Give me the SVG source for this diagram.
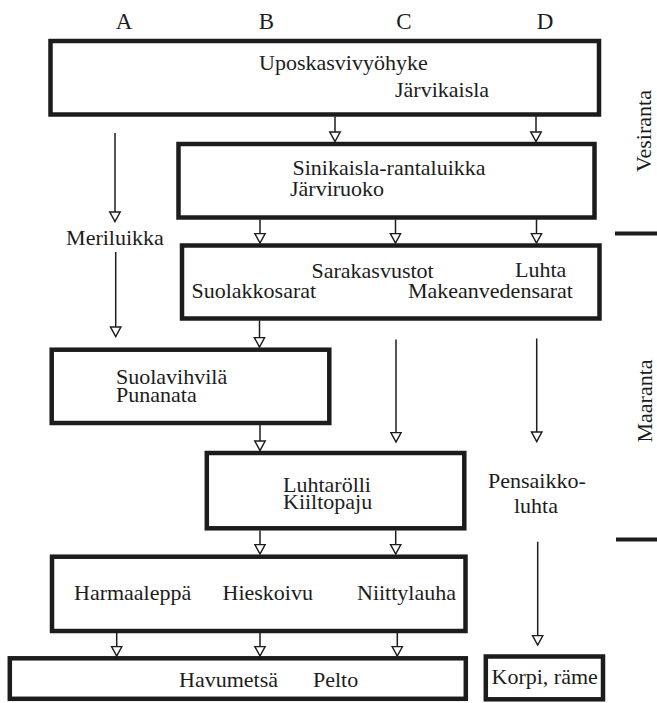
<svg xmlns="http://www.w3.org/2000/svg" width="657" height="703" viewBox="0 0 657 703">
<defs>
<style>
.box{fill:#fff;stroke:#1c1c1c;stroke-width:4.5}
.t{font-family:"Liberation Serif","Times New Roman",serif;font-size:22px;fill:#1c1c1c}
.h{font-family:"Liberation Serif","Times New Roman",serif;font-size:23px;fill:#1c1c1c;text-anchor:middle}
.c line{stroke:#1c1c1c;stroke-width:1.5;marker-end:url(#ah)}
.bar{stroke:#1c1c1c;stroke-width:4}
</style>
<marker id="ah" markerUnits="userSpaceOnUse" viewBox="-1 -7 12 14" refX="9.5" refY="0" markerWidth="12" markerHeight="14" orient="auto">
<path d="M0,-5.2 L9.5,0 L0,5.2 Z" fill="#fff" stroke="#1c1c1c" stroke-width="1.5"/>
</marker>
</defs>
<rect width="657" height="703" fill="#fff"/>

<g id="headers">
<text class="h" x="124" y="29">A</text>
<text class="h" x="266.5" y="29">B</text>
<text class="h" x="404" y="29">C</text>
<text class="h" x="545" y="29">D</text>
</g>

<g id="side">
<line class="bar" x1="615" y1="233.5" x2="657" y2="233.5"/>
<line class="bar" x1="616" y1="539.5" x2="657" y2="539.5"/>
<text class="t" text-anchor="middle" transform="translate(651,131) rotate(-90)">Vesiranta</text>
<text class="t" text-anchor="middle" transform="translate(651.5,401) rotate(-90)">Maaranta</text>
</g>

<g id="n1">
<rect class="box" x="50.5" y="41" width="548.5" height="73.5"/>
<text class="t" x="259" y="70">Uposkasvivyöhyke</text>
<text class="t" x="395" y="96.5">Järvikaisla</text>
</g>
<g id="n2">
<rect class="box" x="178.5" y="144" width="416" height="73.5"/>
<text class="t" x="292.5" y="175">Sinikaisla-rantaluikka</text>
<text class="t" x="290" y="196">Järviruoko</text>
</g>
<g id="n-meriluikka">
<text class="t" text-anchor="middle" x="115" y="245">Meriluikka</text>
</g>
<g id="n3">
<rect class="box" x="182" y="245.5" width="417.5" height="73"/>
<text class="t" x="311.5" y="278">Sarakasvustot</text>
<text class="t" x="515" y="277">Luhta</text>
<text class="t" x="191.5" y="297.5">Suolakkosarat</text>
<text class="t" x="408" y="297.5">Makeanvedensarat</text>
</g>
<g id="n4">
<rect class="box" x="51.7" y="349.7" width="277.6" height="73.3"/>
<text class="t" x="116" y="384">Suolavihvilä</text>
<text class="t" x="116" y="401.5">Punanata</text>
</g>
<g id="n5">
<rect class="box" x="206.8" y="453" width="257.5" height="75.3"/>
<text class="t" x="283" y="491.5">Luhtarölli</text>
<text class="t" x="283" y="509">Kiiltopaju</text>
</g>
<g id="n-pensaikkoluhta">
<text class="t" x="488" y="488">Pensaikko-</text>
<text class="t" x="514" y="513">luhta</text>
</g>
<g id="n6">
<rect class="box" x="52" y="556.7" width="413.5" height="74.3"/>
<text class="t" x="74" y="600">Harmaaleppä</text>
<text class="t" x="222.5" y="600">Hieskoivu</text>
<text class="t" x="357" y="600">Niittylauha</text>
</g>
<g id="n7">
<rect class="box" x="9.8" y="658.3" width="456" height="40.5"/>
<text class="t" x="179" y="686.5">Havumetsä</text>
<text class="t" x="313" y="686.5">Pelto</text>
</g>
<g id="n8">
<rect class="box" x="485.8" y="656.5" width="117.2" height="42.8"/>
<text class="t" x="491.5" y="684">Korpi, räme</text>
</g>

<g id="connectors" class="c">
<line x1="335" y1="116.5" x2="335" y2="141.5"/>
<line x1="536" y1="116.5" x2="536" y2="141.5"/>
<line x1="115" y1="133" x2="115" y2="221.5"/>
<line x1="260" y1="219.5" x2="260" y2="243"/>
<line x1="395.5" y1="219.5" x2="395.5" y2="243"/>
<line x1="536.5" y1="219.5" x2="536.5" y2="243"/>
<line x1="115.7" y1="252" x2="115.7" y2="336.5"/>
<line x1="259.5" y1="320.5" x2="259.5" y2="347"/>
<line x1="396" y1="339.5" x2="396" y2="442"/>
<line x1="536.7" y1="338.5" x2="536.7" y2="441.5"/>
<line x1="260" y1="425" x2="260" y2="450.5"/>
<line x1="260" y1="530.5" x2="260" y2="554"/>
<line x1="395.7" y1="530.5" x2="395.7" y2="554"/>
<line x1="537.7" y1="541.7" x2="537.7" y2="645"/>
<line x1="116.7" y1="633" x2="116.7" y2="656"/>
<line x1="260" y1="633" x2="260" y2="656"/>
<line x1="397.3" y1="633" x2="397.3" y2="656"/>
</g>
</svg>
